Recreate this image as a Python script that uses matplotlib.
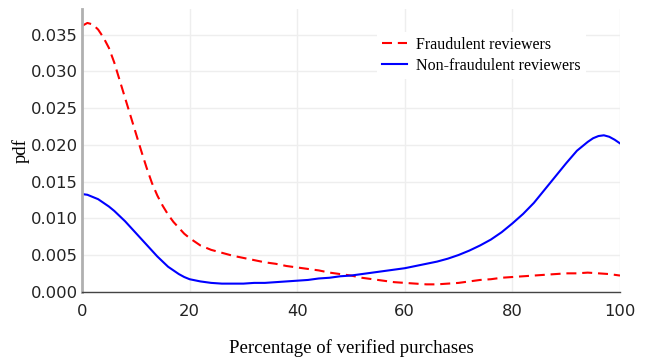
import matplotlib
matplotlib.use("Agg")
import matplotlib.pyplot as plt

# Kernel-density estimates of the share of verified purchases per reviewer
fraud_x = [0, 1, 2, 3, 4, 5, 6, 7, 8, 9, 10, 11, 12, 13, 14, 15, 16, 17, 18, 19, 20,
           22, 24, 26, 28, 30, 32, 34, 36, 38, 40, 42, 44, 46, 48, 50, 52, 54, 56, 58,
           60, 62, 64, 66, 68, 70, 72, 74, 76, 78, 80, 82, 84, 86, 88, 90, 92, 94, 96,
           98, 100]
fraud_pdf = [0.0362, 0.0366, 0.0364, 0.0357, 0.0346, 0.0332, 0.0312, 0.0288, 0.0264,
             0.0240, 0.0216, 0.0192, 0.0169, 0.0148, 0.0131, 0.0117, 0.0105, 0.0095,
             0.0087, 0.0079, 0.0073, 0.0063, 0.0057, 0.0053, 0.0049, 0.0046, 0.0043,
             0.0040, 0.0038, 0.0035, 0.0033, 0.0031, 0.0029, 0.0026, 0.0024, 0.0022,
             0.0019, 0.0017, 0.0015, 0.0013, 0.0012, 0.0011, 0.0010, 0.0010, 0.0011,
             0.0012, 0.0014, 0.0016, 0.0017, 0.0019, 0.0020, 0.0021, 0.0022, 0.0023,
             0.0024, 0.0025, 0.0025, 0.0026, 0.0025, 0.0024, 0.0022]

genuine_x = [0, 1, 2, 3, 4, 5, 6, 7, 8, 9, 10, 11, 12, 13, 14, 15, 16, 17, 18, 19, 20,
             22, 24, 26, 28, 30, 32, 34, 36, 38, 40, 42, 44, 46, 48, 50, 52, 54, 56, 58,
             60, 62, 64, 66, 68, 70, 72, 74, 76, 78, 80, 82, 84, 86, 88, 90, 92, 94, 95,
             96, 97, 98, 99, 100]
genuine_pdf = [0.0133, 0.0132, 0.0129, 0.0126, 0.0121, 0.0116, 0.0110, 0.0103, 0.0096,
               0.0088, 0.0080, 0.0072, 0.0064, 0.0056, 0.0048, 0.0041, 0.0034, 0.0029,
               0.0024, 0.0020, 0.0017, 0.0014, 0.0012, 0.0011, 0.0011, 0.0011, 0.0012,
               0.0012, 0.0013, 0.0014, 0.0015, 0.0016, 0.0018, 0.0019, 0.0021, 0.0022,
               0.0024, 0.0026, 0.0028, 0.0030, 0.0032, 0.0035, 0.0038, 0.0041, 0.0045,
               0.0050, 0.0056, 0.0063, 0.0071, 0.0081, 0.0093, 0.0106, 0.0121, 0.0139,
               0.0157, 0.0175, 0.0192, 0.0204, 0.0209, 0.0212, 0.0213, 0.0211, 0.0207,
               0.0202]

series_labels = ["Fraudulent reviewers", "Non-fraudulent reviewers"]
x_ticks = [0, 20, 40, 60, 80, 100]
y_ticks = [0.000, 0.005, 0.010, 0.015, 0.020, 0.025, 0.030, 0.035]

W, H = 649, 360
fig = plt.figure(figsize=(W / 100, H / 100), dpi=100)
ax = fig.add_axes([82 / W, 1 - 291.7 / H, (620 - 82) / W, (291.7 - 9) / H])

ax.plot(fraud_x, fraud_pdf, color="#ff0000", lw=1.5, dashes=(4.8, 2.8),
        label=series_labels[0])
ax.plot(genuine_x, genuine_pdf, color="#0000ff", lw=1.5, label=series_labels[1])

ax.set_xlim(0, 100)
ax.set_ylim(0, 0.0385)
ax.set_xticks(x_ticks)
ax.set_yticks(y_ticks)
ax.set_xticklabels([str(t) for t in x_ticks])
ax.set_yticklabels([f"{t:.3f}" for t in y_ticks])

ax.grid(True, color="#eeeeee", lw=1)
ax.set_axisbelow(True)
for side in ("top", "right"):
    ax.spines[side].set_visible(False)
ax.spines["left"].set_color("#b0b0b0")
ax.spines["left"].set_linewidth(2)
ax.spines["bottom"].set_color("#444444")
ax.spines["bottom"].set_linewidth(1)

ax.tick_params(axis="both", length=0, labelsize=11.8, colors="#222222")
ax.tick_params(axis="x", pad=9)
ax.tick_params(axis="y", pad=3)
for lab in ax.get_xticklabels() + ax.get_yticklabels():
    lab.set_family("DejaVu Sans")

serif = "Liberation Serif"
ax.set_xlabel("Percentage of verified purchases", family=serif, fontsize=13.5,
              labelpad=14)
ax.set_ylabel("pdf", family=serif, fontsize=13.5, labelpad=1)

leg = ax.legend(loc="upper left",
                bbox_to_anchor=((377 - 82) / (620 - 82), 1 - (32 - 9) / (291.7 - 9)),
                frameon=True, fancybox=False, framealpha=1, edgecolor="white",
                prop={"family": serif, "size": 11.5}, handlelength=1.6,
                handletextpad=0.55, borderpad=0.3, labelspacing=0.32,
                borderaxespad=0)
leg.get_frame().set_linewidth(0)

fig.savefig("out.png", dpi=100)
